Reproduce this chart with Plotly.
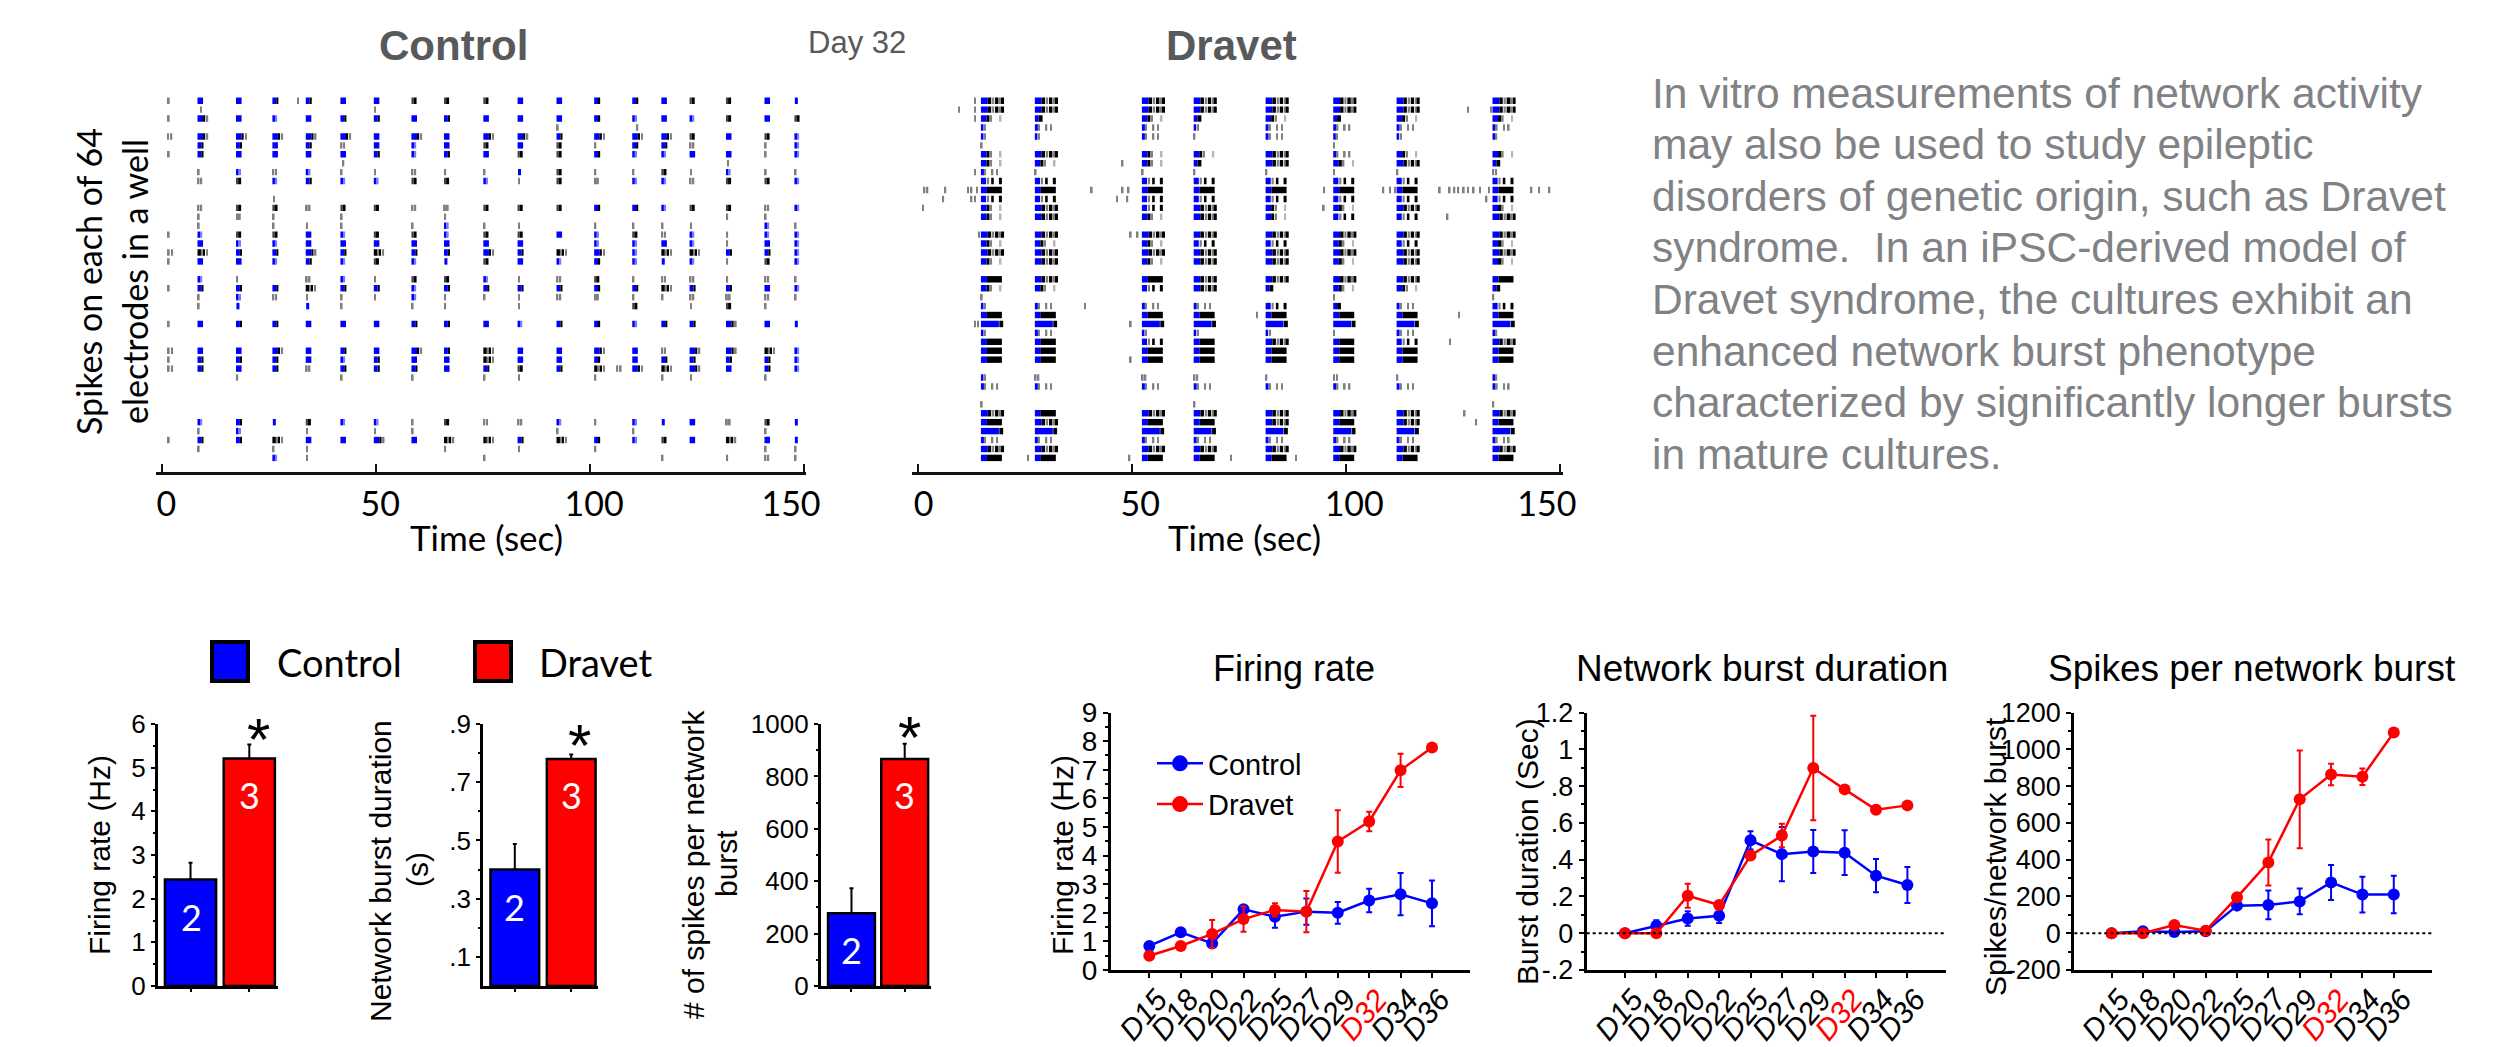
import plotly.graph_objects as go

W, H = 2517, 1047
BLUE, RED, BLACK = "#0000ff", "#ff0000", "#000000"
DARK, GRAY, PALE, LBLUE = "#444444", "#808080", "#b5b5b5", "#7a7aff"
ARIAL, CALIBRI = "Liberation Sans", "Lato"
TITLE_GRAY = "#58595b"

# ---------- raster data: start of each network burst (s) and one code per burst per electrode row
control_bursts = [8.3, 17.3, 25.8, 33.6, 41.7, 49.5, 58.3, 65.9, 75.1, 83.1, 92.2, 101.0, 109.9, 116.7, 123.3, 131.8, 140.8, 147.8]
control_rows = {
    0: "BBMMBBKKKBBMMBKKBn", 2: "WBbBMMBMBBBMbBbKBK", 4: "WWWWWBWBWWMWWWKBKb", 5: "MMBMGBbBKBKgMMG.gb",
    6: "MBBBBMbMBKKMbbBBgb", 8: "gbGbggGggnKggKgbgg", 9: "GKbMbbKKbgKGbbGKKb", 12: "GKKGKKGGKKKMMbKKGb",
    13: "gGg.g..g.......gg..", 14: "g.ggg.gbgg.gggg.bg", 15: "bKKBbKKbKKBbKGbgbb", 16: "BbbBBBBBBB.bbBbgBb",
    17: "XMMWMXMMWMXWbXXMMb", 18: "BBbMbKbnKBbMbnbgKb", 20: "bg.GbgKKbgGKgGGgGg", 21: "MMMXMMbMMMMMMXMMBb",
    22: "gbGgggbgggGGggGGGg", 23: "gn.ng.gg.g..K.gKg..", 25: "BMMBBBMMBbMMbMMWBn", 28: "BBWBMBWMXBBWBGWWXb",
    29: "MMMBbMBBXBBMBMMMMb", 30: "MBMGMMMBMKMXWXWBMb", 31: ".g..g.g.gg.g.gg.g.g", 36: "bMnKbbgKGGbgbnBGKn",
    37: "gb.g.gg...g.g...g..", 38: "MMXBBWBXXMXMbKBXBn", 39: "g.gg...g.g.g....gg.g", 40: "..bg....g....g.gGgg",
}
control_extra = {0: [1.4, 31.6], 1: [8.9, 49.6], 2: [1.4], 3: [92.3, 110.9], 4: [1.2, 2.0], 6: [1.4], 7: [42.2, 132.1],
                 11: [26.0], 15: [1.4], 17: [1.4, 2.2], 18: [1.4], 21: [1.4], 25: [1.4], 28: [1.4, 2.2], 29: [1.4],
                 30: [1.4, 2.2, 106.2, 107.0], 38: [1.4]}

dravet_bursts = [14.8, 27.4, 52.4, 64.5, 81.3, 97.1, 111.9, 134.3]
dravet_rows = {
    0: "AAAAAAAA", 1: "AAAAAAAA", 2: "SPSPSPSS", 3: "TUUTUUUU", 4: "TTUgUTTT", 5: "g....g..", 6: "SASSAUSS",
    7: "SSSPASAP", 8: "UggggggG", 9: "DDDDDDDD", 10: "CCCCCCCC", 11: "DDDDDDDD", 12: "SADASSAS", 13: "SASASDDA",
    15: "AAAAAAAA", 16: "SSSDDSDS", 17: "AAAAAAAA", 18: "SASAASAS", 20: "CACAAAAC", 21: "SSDAPSSP", 22: "g....g.g",
    23: "TUUUDPUD", 24: "CCCCCCCC", 25: "LLLLLLLL", 26: "TUTTTgUT", 27: "CCDCACDA", 28: "CCCCCCCC", 29: "CCCCCCCC",
    31: "TGGGgGgT", 32: "UUUUUUUU", 34: "g..g...g", 35: "ACAAAAAA", 36: "CACCACAC", 37: "LLLLLLLL", 38: "UUUUUUUU",
    39: "AAAAAAAA", 40: "CCCCCCCC",
}
dravet_extra = {
    0: [13.2], 1: [9.5, 13.2, 128.4, 133.8], 2: [13.2], 7: [47.7], 8: [13.2],
    10: [1.4, 2.1, 6.3, 11.6, 12.4, 13.7, 40.5, 47.7, 49.1, 94.8, 108.6, 110.2, 111.3, 121.8, 124.1, 125.2, 126.1, 127.4,
         128.4, 129.7, 131.2, 133.3, 143.2, 145.0, 147.4],
    11: [5.8, 12.4, 13.2, 46.4, 48.8, 132.7], 12: [1.1, 94.7], 13: [123.6], 15: [14.2, 49.6, 51.2], 23: [38.9],
    24: [79.1, 126.3], 25: [13.2, 13.9, 49.6], 27: [124.2], 29: [49.6], 35: [127.6], 36: [130.3],
    40: [25.6, 49.3, 73.0, 88.2],
}

# mark shapes of the raster codes: (offset s, width s, colour)
control_shapes = {
    "B": [(0, 1.3, BLUE)], "n": [(0.1, 0.7, BLUE)], "M": [(0, 0.9, BLUE), (0.9, 0.5, BLACK)],
    "K": [(0, 0.5, DARK), (0.5, 0.7, BLACK)], "G": [(0, 0.45, GRAY), (0.65, 0.45, GRAY)], "g": [(0.1, 0.4, GRAY)],
    "b": [(0, 0.6, BLUE), (0.7, 0.4, LBLUE)], "W": [(0, 1.3, BLUE), (1.3, 0.5, BLACK), (2.1, 0.4, GRAY)],
    "X": [(0, 0.8, BLACK), (0.9, 0.3, GRAY), (1.4, 0.3, BLACK), (2.1, 0.3, GRAY)],
}
dravet_shapes = {
    "A": [(0, 1.6, BLUE), (1.6, 0.8, BLACK), (2.6, 0.5, GRAY), (3.3, 0.8, BLACK), (4.3, 0.3, GRAY), (4.7, 0.7, BLACK)],
    "C": [(0, 1.4, BLUE), (1.4, 3.5, BLACK)],
    "S": [(0, 1.3, BLUE), (1.3, 0.7, BLACK), (2.2, 0.4, GRAY), (4.4, 0.4, PALE)],
    "P": [(0, 0.9, BLUE), (0.9, 0.9, BLACK)],
    "D": [(0, 1.2, BLUE), (1.4, 0.5, GRAY), (2.4, 0.6, BLACK), (4.2, 0.7, BLACK)],
    "L": [(0, 4.2, BLUE), (4.3, 0.9, BLACK)], "T": [(0, 0.6, BLUE), (0.8, 0.3, GRAY)],
    "U": [(0, 0.7, BLUE), (0.8, 0.4, GRAY), (2.5, 0.4, GRAY), (3.6, 0.4, GRAY)],
    "g": [(0, 0.4, GRAY)], "G": [(0, 0.4, GRAY), (0.7, 0.35, GRAY)],
}

# ---------- mean bars
bar_labels = ["Control", "Dravet"]
bar_counts = ["2", "3"]
firing_bar = [2.44, 5.21]; firing_bar_err = [0.38, 0.32]
duration_bar = [0.40, 0.78]; duration_bar_err = [0.088, 0.015]
spikes_bar = [278, 866]; spikes_bar_err = [95, 59]

# ---------- time courses
days = ["D15", "D18", "D20", "D22", "D25", "D27", "D29", "D32", "D34", "D36"]
day_text = [f'<span style="color:{RED}">{d}</span>' if d == "D32" else d for d in days]
firing_control = [0.84, 1.32, 0.93, 2.12, 1.86, 2.04, 2.0, 2.43, 2.65, 2.33]
firing_control_err = [0.05, 0.08, 0.15, 0.1, 0.38, 0.46, 0.38, 0.41, 0.74, 0.8]
firing_dravet = [0.5, 0.84, 1.26, 1.78, 2.1, 2.04, 4.49, 5.19, 6.98, 7.78]
firing_dravet_err = [0.05, 0.05, 0.49, 0.44, 0.23, 0.72, 1.09, 0.34, 0.58, 0.0]
burst_control = [0.0, 0.04, 0.08, 0.095, 0.505, 0.43, 0.444, 0.438, 0.313, 0.262]
burst_control_err = [0.0, 0.03, 0.04, 0.04, 0.05, 0.147, 0.117, 0.122, 0.09, 0.098]
burst_dravet = [0.0, 0.0, 0.204, 0.153, 0.422, 0.531, 0.898, 0.782, 0.671, 0.695]
burst_dravet_err = [0.0, 0.0, 0.065, 0.01, 0.02, 0.064, 0.284, 0.01, 0.01, 0.01]
spb_control = [0, 11, 7, 11, 150, 154, 173, 276, 210, 210]
spb_control_err = [3, 3, 3, 3, 10, 78, 70, 95, 97, 102]
spb_dravet = [0, 0, 45, 14, 195, 385, 728, 863, 851, 1091]
spb_dravet_err = [0, 0, 5, 3, 5, 125, 266, 58, 45, 0]

paragraph = [
    "In vitro measurements of network activity",
    "may also be used to study epileptic",
    "disorders of genetic origin, such as Dravet",
    "syndrome.  In an iPSC-derived model of",
    "Dravet syndrome, the cultures exhibit an",
    "enhanced network burst phenotype",
    "characterized by significantly longer bursts",
    "in mature cultures.",
]

# ---------- helpers
fig = go.Figure()
layout = {}
annotations = []
shapes = []


def px_x(l, r):
    return [l / W, r / W]


def px_y(t, b):
    return [1 - b / H, 1 - t / H]


def text(x, y, s, size, font=ARIAL, color=BLACK, angle=0, bold=False, xanchor="center", align="center", height=None):
    annotations.append(dict(
        x=x / W, y=1 - y / H, xref="paper", yref="paper", text=f"<b>{s}</b>" if bold else s, showarrow=False,
        font=dict(size=size, family=font, color=color), textangle=angle, xanchor=xanchor, yanchor="middle",
        align=align, height=height))


def set_axes(n, xaxis, yaxis):
    suffix = "" if n == 1 else str(n)
    layout["xaxis" + suffix] = dict(anchor="y" + suffix, **xaxis)
    layout["yaxis" + suffix] = dict(anchor="x" + suffix, **yaxis)
    return ("x" + suffix, "y" + suffix)


def raster(n, bursts, rows, extra, shapes_of, dom, xr, label_vals):
    xa, ya = set_axes(
        n,
        dict(domain=px_x(*dom), range=xr, showgrid=False, zeroline=False, showline=True, linecolor="#111111", linewidth=3,
             tickvals=label_vals, ticktext=["0", "50", "100", "150"], ticks="", ticklen=0,
             tickfont=dict(family=CALIBRI, size=34, color=BLACK),
             minor=dict(tickvals=[0, 50, 100, 150], ticks="inside", ticklen=8, tickwidth=2, tickcolor="#111111")),
        dict(domain=px_y(90, 472), range=[41.58, -1.2], visible=False, showgrid=False, zeroline=False),
    )
    xs, ys, base, cols = [], [], [], []
    for row, codes in rows.items():
        for t, code in zip(bursts, codes):
            for off, wid, col in shapes_of.get(code, []):
                xs.append(wid); base.append(t + off); ys.append(row); cols.append(col)
    for row, times in extra.items():
        for t in times:
            xs.append(0.4); base.append(t); ys.append(row); cols.append(GRAY)
    fig.add_trace(go.Bar(x=xs, y=ys, base=base, orientation="h", width=0.72, marker=dict(color=cols, line=dict(width=0)),
                         xaxis=xa, yaxis=ya, showlegend=False, hoverinfo="skip"))


def mean_bars(n, values, errs, dom, xr, width, yr, yvals, ytext, yminor):
    xa, ya = set_axes(
        n,
        dict(domain=px_x(*dom), range=xr, showgrid=False, zeroline=False, showline=True, linecolor=BLACK, linewidth=3,
             tickvals=[0, 1], ticktext=["", ""], ticks="outside", ticklen=3, tickwidth=1.5, tickcolor=BLACK),
        dict(domain=px_y(724, 986), range=yr, showgrid=False, zeroline=False, showline=True, linecolor=BLACK, linewidth=2.5,
             tickvals=yvals, ticktext=ytext, ticks="outside", ticklen=4, tickwidth=2, tickcolor=BLACK,
             tickfont=dict(family=ARIAL, size=26, color=BLACK),
             minor=dict(tickvals=yminor, ticks="outside", ticklen=2, tickwidth=2, tickcolor=BLACK)),
    )
    fig.add_trace(go.Bar(x=[0, 1], y=values, width=width, marker=dict(color=[BLUE, RED], line=dict(color=BLACK, width=2.5)),
                         error_y=dict(type="data", array=errs, arrayminus=[0, 0], color=BLACK, thickness=2, width=2),
                         xaxis=xa, yaxis=ya, showlegend=False, customdata=bar_labels))


def time_course(n, control, control_err, dravet, dravet_err, dom, xr, yr, yvals, ytext, yminor, tick_size, zero=False):
    xa, ya = set_axes(
        n,
        dict(domain=px_x(*dom), range=xr, showgrid=False, zeroline=False, showline=True, linecolor=BLACK, linewidth=2.5,
             tickvals=list(range(10)), ticktext=day_text, tickangle=-50, ticks="outside", ticklen=5, tickwidth=1.5,
             ticklabelstandoff=-8, ticklabelshift=8,
             tickcolor=BLACK, tickfont=dict(family=ARIAL, size=30, color=BLACK, style="italic")),
        dict(domain=px_y(712.5, 970), range=yr, showgrid=False, zeroline=False, showline=True, linecolor=BLACK, linewidth=3,
             tickvals=yvals, ticktext=ytext, ticks="outside", ticklen=5, tickwidth=2, tickcolor=BLACK,
             tickfont=dict(family=ARIAL, size=tick_size, color=BLACK),
             minor=dict(tickvals=yminor, ticks="outside", ticklen=3, tickwidth=2, tickcolor=BLACK)),
    )
    for vals, errs, col, name in ((control, control_err, BLUE, "Control"), (dravet, dravet_err, RED, "Dravet")):
        fig.add_trace(go.Scatter(
            x=list(range(10)), y=vals, mode="lines+markers", name=name, showlegend=False,
            line=dict(color=col, width=2.5), marker=dict(color=col, size=12),
            error_y=dict(type="data", array=errs, color=col, thickness=2, width=3), xaxis=xa, yaxis=ya))
    if zero:
        shapes.append(dict(type="line", xref=xa + " domain", yref=ya, x0=0, x1=1, y0=0, y1=0,
                           line=dict(color=BLACK, width=2, dash="dot")))
    return xa, ya


# ---------- raster panels
raster(1, control_bursts, control_rows, control_extra, control_shapes, (156, 806.4), [-1.4, 150.6], [1.0, 51.0, 101.0, 147.0])
raster(2, dravet_bursts, dravet_rows, dravet_extra, dravet_shapes, (912, 1562.7), [-1.3, 150.7], [1.4, 52.0, 102.0, 147.0])

# ---------- bar panels
mean_bars(3, firing_bar, firing_bar_err, (157.6, 278), [-0.56, 1.488], 0.87, [0, 6], [0, 1, 2, 3, 4, 5, 6],
          ["0", "1", "2", "3", "4", "5", "6"], [0.5, 1.5, 2.5, 3.5, 4.5, 5.5])
mean_bars(4, duration_bar, duration_bar_err, (483, 598), [-0.564, 1.475], 0.864, [0, 0.9], [0.1, 0.3, 0.5, 0.7, 0.9],
          [".1", ".3", ".5", ".7", ".9"], [0.2, 0.4, 0.6, 0.8])
mean_bars(5, spikes_bar, spikes_bar_err, (820.6, 931), [-0.58, 1.494], 0.88, [0, 1000], [0, 200, 400, 600, 800, 1000],
          ["0", "200", "400", "600", "800", "1000"], [100, 300, 500, 700, 900])

# ---------- time-course panels
xa, ya = time_course(6, firing_control, firing_control_err, firing_dravet, firing_dravet_err, (1111, 1470), [-1.22, 10.21], [0, 9],
                     list(range(10)), [str(v) for v in range(10)], [v + 0.5 for v in range(9)], 28)
for col, name in ((BLUE, "Control"), (RED, "Dravet")):
    fig.add_trace(go.Scatter(x=[None], y=[None], mode="lines+markers", name=name, line=dict(color=col, width=2.5),
                             marker=dict(color=col, size=16), xaxis=xa, yaxis=ya, showlegend=True))
time_course(7, burst_control, burst_control_err, burst_dravet, burst_dravet_err, (1586.7, 1946), [-1.22, 10.23], [-0.2, 1.2],
            [-0.2, 0, 0.2, 0.4, 0.6, 0.8, 1, 1.2], ["-.2", "0", ".2", ".4", ".6", ".8", "1", "1.2"],
            [-0.1, 0.1, 0.3, 0.5, 0.7, 0.9, 1.1], 27, zero=True)
time_course(8, spb_control, spb_control_err, spb_dravet, spb_dravet_err, (2074.3, 2431.7), [-1.19, 10.21], [-200, 1200],
            [-200, 0, 200, 400, 600, 800, 1000, 1200], ["-200", "0", "200", "400", "600", "800", "1000", "1200"],
            [-100, 100, 300, 500, 700, 900, 1100], 27, zero=True)

# ---------- texts
text(453, 46, "Control", 42, bold=True, color=TITLE_GRAY)
text(1231, 46, "Dravet", 42, bold=True, color=TITLE_GRAY)
text(857, 43, "Day 32", 31, color=TITLE_GRAY)
text(88, 282, "Spikes on each of 64", 34, font=CALIBRI, angle=-90)
text(134, 282, "electrodes in a well", 34, font=CALIBRI, angle=-90)
text(486, 537, "Time (sec)", 35, font=CALIBRI)
text(1244, 537, "Time (sec)", 35, font=CALIBRI)
for i, line in enumerate(paragraph):
    text(1650, 93 + 51.6 * i, line, 42.5, color="#808285", xanchor="left", align="left")

for x0, x1, col in ((212, 248, BLUE), (475, 511, RED)):
    shapes.append(dict(type="rect", xref="paper", yref="paper", x0=x0 / W, x1=x1 / W, y0=1 - 681 / H, y1=1 - 642 / H,
                       fillcolor=col, line=dict(color=BLACK, width=4)))
text(339.5, 662, "Control", 38, font=CALIBRI)
text(595.5, 662, "Dravet", 38, font=CALIBRI)

text(99, 855, "Firing rate (Hz)", 30, angle=-90)
text(380, 871, "Network burst duration", 30, angle=-90)
text(417, 870, "(s)", 30, angle=-90)
text(693, 865, "# of spikes per network", 30, angle=-90)
text(726, 864, "burst", 30, angle=-90)
for x, y, s in ((191, 917, "2"), (249, 795, "3"), (514.7, 907, "2"), (571, 795, "3"), (851, 950, "2"), (904, 795, "3")):
    text(x, y, s, 36, font=CALIBRI, color="#ffffff")
for x, y in ((258, 739), (579.5, 745), (909.6, 737)):
    text(x, y, "*", 60, height=40)

text(1294, 668, "Firing rate", 36)
text(1762, 668, "Network burst duration", 37)
text(2252, 668, "Spikes per network burst", 37)
text(1062, 855, "Firing rate (Hz)", 30, angle=-90)
text(1527, 852, "Burst duration (Sec)", 30, angle=-90)
text(1995, 857, "Spikes/network burst", 30, angle=-90)

fig.update_layout(
    width=W, height=H, autosize=False, margin=dict(l=0, r=0, t=0, b=0, autoexpand=False), plot_bgcolor="#ffffff", paper_bgcolor="#ffffff",
    barmode="overlay", annotations=annotations, shapes=shapes, hovermode=False,
    legend=dict(x=1152 / W, y=1 - 738 / H, xanchor="left", yanchor="top", bgcolor="rgba(0,0,0,0)", itemwidth=46,
                font=dict(family=ARIAL, size=29, color=BLACK)),
    **layout,
)
fig.write_html("out.html", post_script="document.body.style.margin='0';", config=dict(displayModeBar=False))
